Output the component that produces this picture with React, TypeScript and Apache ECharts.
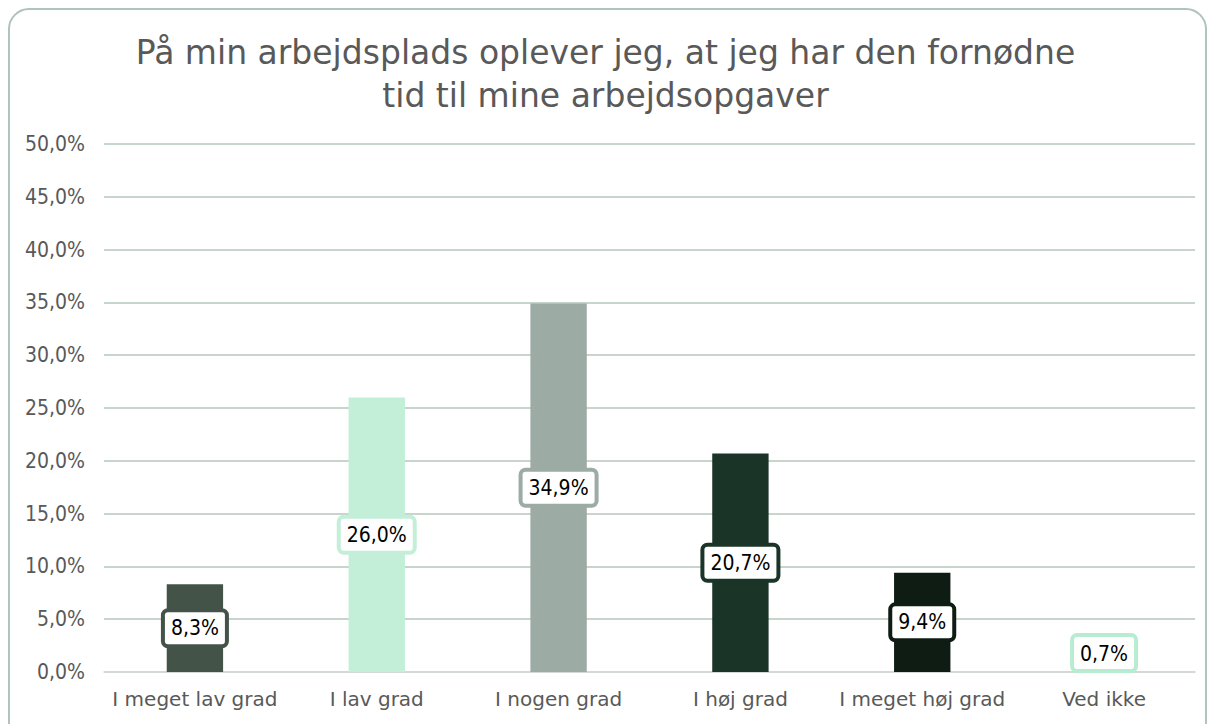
import React, { useEffect, useRef } from "react";
import * as echarts from "echarts";

const titleLines = ["På min arbejdsplads oplever jeg, at jeg har den fornødne", "tid til mine arbejdsopgaver"];
const categories = ["I meget lav grad", "I lav grad", "I nogen grad", "I høj grad", "I meget høj grad", "Ved ikke"];
const values = [8.3, 26.0, 34.9, 20.7, 9.4, 0.7];
const barColors = ["#435348", "#c3efd9", "#9caba3", "#1a3527", "#0e1c13", "#c3efd9"];
const labelBorderColors = ["#435348", "#c3efd9", "#9caba3", "#1a3527", "#0e1c13", "#b7ecd2"];
const yTicks = { min: 0, max: 50, interval: 5 };

const FONT = "DejaVu Sans";
const FONT_C = "DejaVu Sans Condensed, DejaVu Sans";
const fmt = (v: number) => v.toFixed(1).replace(".", ",") + "%";

export default function App() {
  const ref = useRef<HTMLDivElement>(null);
  useEffect(() => {
    if (!ref.current) return;
    const chart = echarts.init(ref.current, undefined, { renderer: "svg" });
    chart.setOption({
      animation: false,
      backgroundColor: "#ffffff",
      title: {
        text: titleLines.join("\n"),
        left: "center",
        top: 26,
        textStyle: { fontFamily: FONT, fontSize: 33, fontWeight: "normal", color: "#595959", lineHeight: 43 },
      },
      graphic: [
        {
          type: "rect",
          shape: { x: 9, y: 9, width: 1197, height: 760, r: 20 },
          style: { fill: "none", stroke: "#b0c4b9", lineWidth: 2 },
          silent: true,
        },
      ],
      grid: { left: 104, right: 16, top: 144, bottom: 52 },
      xAxis: {
        type: "category",
        data: categories,
        axisLine: { lineStyle: { color: "#d9d9d9", width: 1.5 } },
        axisTick: { show: false },
        axisLabel: { fontFamily: FONT, fontSize: 20, color: "#595959", margin: 17, interval: 0 },
      },
      yAxis: {
        type: "value",
        min: yTicks.min,
        max: yTicks.max,
        interval: yTicks.interval,
        axisLine: { show: false },
        axisTick: { show: false },
        splitLine: { lineStyle: { color: "#b4c7bc", width: 1.5 } },
        axisLabel: { fontFamily: FONT_C, fontSize: 21, color: "#595959", margin: 19, formatter: (v: number) => fmt(v) },
      },
      series: [
        {
          type: "bar",
          barWidth: "31%",
          data: values.map((v, i) => ({
            value: v,
            itemStyle: { color: barColors[i] },
            label: i === 5
              ? { position: "insideBottom", distance: 3, borderColor: labelBorderColors[i] }
              : { borderColor: labelBorderColors[i] },
          })),
          label: {
            show: true,
            position: "inside",
            formatter: (p: any) => fmt(p.value),
            fontFamily: FONT_C,
            fontSize: 21,
            color: "#000000",
            backgroundColor: "#ffffff",
            borderWidth: 4,
            borderRadius: 3,
            padding: [6, 6, 5, 6],
          },
        },
      ],
    });
    return () => chart.dispose();
  }, []);
  return <div ref={ref} style={{ position: "fixed", left: 0, top: 0, width: 1211, height: 724 }} />;
}
